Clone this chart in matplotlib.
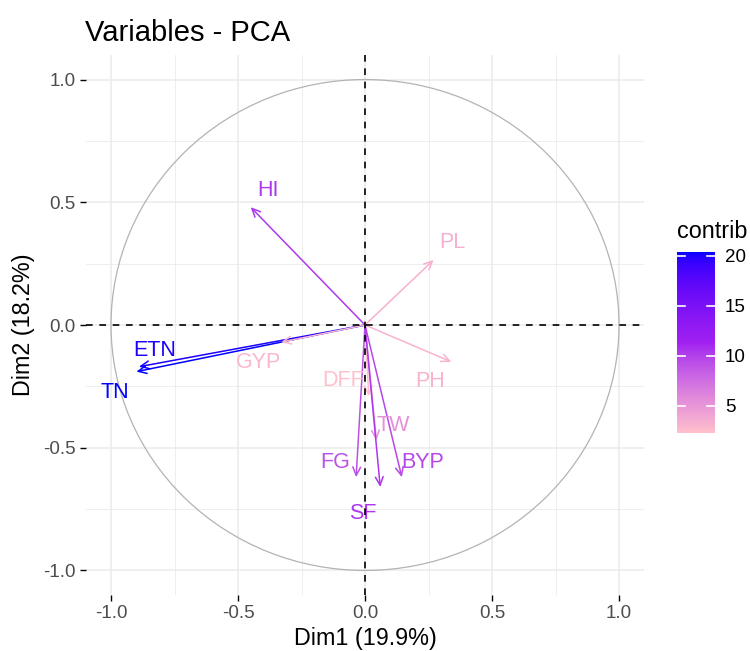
import matplotlib
matplotlib.use("Agg")
import matplotlib.pyplot as plt
import numpy as np
from matplotlib.colors import LinearSegmentedColormap, Normalize, to_rgb
from matplotlib.cm import ScalarMappable
from matplotlib.patches import Circle

plt.rcParams['font.family'] = ['Liberation Sans', 'DejaVu Sans']

# ---- data ----
variables = ["HI", "PL", "ETN", "TN", "GYP", "DFF", "PH", "TW", "FG", "BYP", "SF"]
dim1 = [-0.45, 0.27, -0.89, -0.90, -0.33, 0.015, 0.34, 0.045, -0.035, 0.145, 0.06]
dim2 = [0.48, 0.265, -0.17, -0.19, -0.07, -0.29, -0.15, -0.47, -0.62, -0.62, -0.66]
contrib = [10.4, 3.4, 20.0, 20.4, 2.8, 2.3, 3.2, 5.3, 9.2, 9.7, 10.5]
# label placements (repelled text positions)
label_x = [-0.382, 0.343, -0.827, -0.984, -0.421, -0.087, 0.256, 0.110, -0.118, 0.228, -0.008]
label_y = [0.55, 0.338, -0.102, -0.277, -0.151, -0.228, -0.232, -0.411, -0.562, -0.562, -0.766]
dim1_label = "Dim1 (19.9%)"
dim2_label = "Dim2 (18.2%)"
title = "Variables - PCA"
cbar_ticks = [5, 10, 15, 20]
gradient_cols = ["#FFC0CB", "#A020F0", "#0000FF"]

W, H = 750, 651
fig = plt.figure(figsize=(W / 100, H / 100), dpi=100)


def fx(px):
    return px / W


def fy(py):
    return 1 - py / H


# ---- Lab-space gradient (like ggplot2's colour ramp) ----
_WHITE = np.array([0.95047, 1.0, 1.08883])
_M = np.array([[0.4124564, 0.3575761, 0.1804375],
               [0.2126729, 0.7151522, 0.0721750],
               [0.0193339, 0.1191920, 0.9503041]])
_Minv = np.linalg.inv(_M)


def rgb2lab(rgb):
    c = np.asarray(rgb, float)
    lin = np.where(c <= 0.04045, c / 12.92, ((c + 0.055) / 1.055) ** 2.4)
    xyz = _M @ lin / _WHITE
    f = np.where(xyz > 216 / 24389, np.cbrt(xyz), (24389 / 27 * xyz + 16) / 116)
    return np.array([116 * f[1] - 16, 500 * (f[0] - f[1]), 200 * (f[1] - f[2])])


def lab2rgb(lab):
    L, a, b = lab
    fy_ = (L + 16) / 116
    fx_ = fy_ + a / 500
    fz_ = fy_ - b / 200
    f = np.array([fx_, fy_, fz_])
    xyz = np.where(f ** 3 > 216 / 24389, f ** 3, (116 * f - 16) / (24389 / 27)) * _WHITE
    lin = _Minv @ xyz
    lin = np.clip(lin, 0, 1)
    c = np.where(lin <= 0.0031308, 12.92 * lin, 1.055 * lin ** (1 / 2.4) - 0.055)
    return np.clip(c, 0, 1)


labs = [rgb2lab(to_rgb(c)) for c in gradient_cols]
ramp = []
n = 256
for i in range(n):
    t = i / (n - 1) * (len(labs) - 1)
    k = min(int(t), len(labs) - 2)
    u = t - k
    ramp.append(lab2rgb(labs[k] * (1 - u) + labs[k + 1] * u))
cmap = LinearSegmentedColormap.from_list("pca", ramp)
norm = Normalize(vmin=min(contrib), vmax=max(contrib))

ax = fig.add_axes([fx(85.6), fy(595), (644.4 - 85.6) / W, (595 - 55) / H])
ax.set_xlim(-1.1, 1.1)
ax.set_ylim(-1.1, 1.1)
for s in ax.spines.values():
    s.set_visible(False)

# grid
ax.set_xticks([-1.0, -0.5, 0.0, 0.5, 1.0])
ax.set_yticks([-1.0, -0.5, 0.0, 0.5, 1.0])
ax.set_xticks(np.arange(-1.0, 1.01, 0.25), minor=True)
ax.set_yticks(np.arange(-1.0, 1.01, 0.25), minor=True)
ax.grid(which='major', color='#EBEBEB', linewidth=1.1, zorder=0)
ax.grid(which='minor', color='#EBEBEB', linewidth=0.6, zorder=0)
ax.set_axisbelow(True)
ax.tick_params(which='minor', length=0)
ax.tick_params(which='major', length=4, width=1, color='black',
               labelsize=13.5, labelcolor='#4D4D4D', pad=3)
ax.set_xticklabels(["-1.0", "-0.5", "0.0", "0.5", "1.0"])
ax.set_yticklabels(["-1.0", "-0.5", "0.0", "0.5", "1.0"])

ax.set_xlabel(dim1_label, fontsize=16.8, color='black', labelpad=4)
ax.set_ylabel(dim2_label, fontsize=16.8, color='black', labelpad=6)

# circle
ax.add_patch(Circle((0, 0), 1.0, fill=False, edgecolor='#B3B3B3', linewidth=0.9, zorder=1))

for v, x, y, c, lx, ly in zip(variables, dim1, dim2, contrib, label_x, label_y):
    col = cmap(norm(c))
    ax.annotate("", xy=(x, y), xytext=(0, 0),
                arrowprops=dict(arrowstyle='->,head_length=0.6,head_width=0.28',
                                color=col, lw=1.1, shrinkA=0, shrinkB=0),
                zorder=3)
    ax.text(lx, ly, v, color=col, fontsize=15.5, ha='center', va='center', zorder=4)

# dashed axes lines
ax.axhline(0, color='black', linestyle=(0, (4, 4)), linewidth=1.2, zorder=5)
ax.axvline(0, color='black', linestyle=(0, (4, 4)), linewidth=1.2, zorder=5)

# title
fig.text(fx(85), fy(41), title, fontsize=21, color='black', ha='left', va='baseline')

# colorbar
cax = fig.add_axes([fx(677), fy(433), 38 / W, (433 - 252) / H])
sm = ScalarMappable(norm=norm, cmap=cmap)
cb = fig.colorbar(sm, cax=cax)
cb.outline.set_visible(False)
cb.set_ticks(cbar_ticks)
cax.tick_params(length=0, labelsize=13.5, labelcolor='black', pad=7)
for t in cbar_ticks:
    cax.plot([0, 0.2], [t, t], color='white', lw=1.2, transform=cax.get_yaxis_transform())
    cax.plot([0.8, 1.0], [t, t], color='white', lw=1.2, transform=cax.get_yaxis_transform())
fig.text(fx(677), fy(238), "contrib", fontsize=16.8, color='black', ha='left', va='baseline')

fig.savefig("out.png", dpi=100)
